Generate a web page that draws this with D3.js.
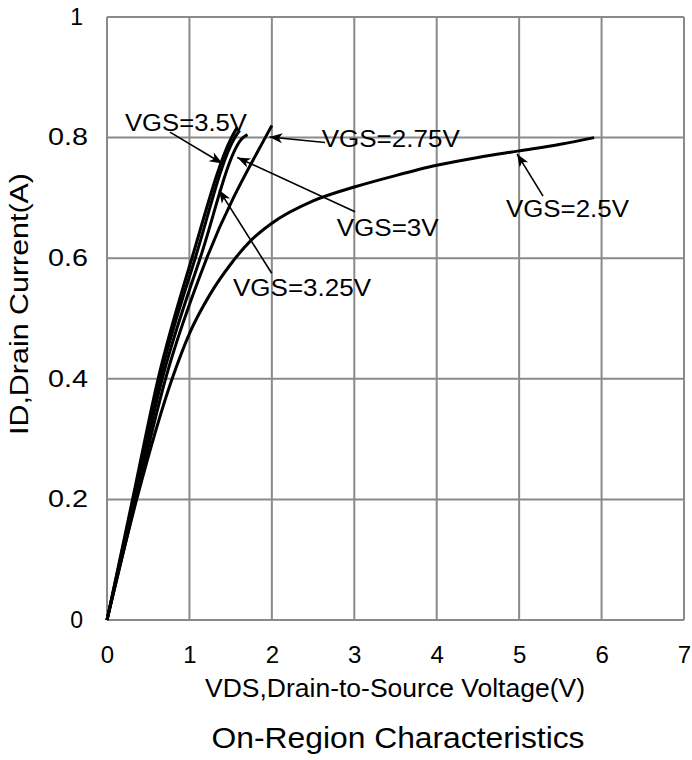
<!doctype html>
<html>
<head>
<meta charset="utf-8">
<style>
  body { margin: 0; background: #fff; }
  text { font-family: "Liberation Sans", Arial, sans-serif; fill: #000; }
</style>
<script src="https://d3js.org/d3.v7.min.js"></script>
</head>
<body>
<svg width="692" height="760"></svg>
<script>
// ---- data ----
var xTicks = [0, 1, 2, 3, 4, 5, 6, 7];
var yTicks = [0, 0.2, 0.4, 0.6, 0.8, 1];

// VGS = 2.5V
var vds25 = [0, 0.36, 0.79, 1.0, 1.25, 1.5, 1.75, 2.0, 2.5, 3.0, 3.5, 4.0, 4.5, 5.0, 5.5, 5.91];
var id25  = [0, 0.2, 0.4, 0.475, 0.54, 0.59, 0.63, 0.658, 0.695, 0.718, 0.737, 0.754, 0.767, 0.778, 0.789, 0.80];
// VGS = 2.75V
var vds275 = [0, 0.35, 0.71, 1.21, 1.92, 2.0];
var id275  = [0, 0.2, 0.4, 0.6, 0.8, 0.82];
// VGS = 3V
var vds3 = [0, 0.33, 0.67, 1.13, 1.65, 1.705];
var id3  = [0, 0.2, 0.4, 0.6, 0.8, 0.805];
// VGS = 3.25V
var vds325 = [0, 0.32, 0.64, 1.07, 1.55, 1.61];
var id325  = [0, 0.2, 0.4, 0.6, 0.8, 0.812];
// VGS = 3.5V
var vds35 = [0, 0.31, 0.62, 1.03, 1.51, 1.58];
var id35  = [0, 0.2, 0.4, 0.6, 0.8, 0.817];

// annotation labels: text, label position (V, A), arrow tail and tip (V, A)
var labelText = ["VGS=3.5V", "VGS=2.75V", "VGS=3V", "VGS=3.25V", "VGS=2.5V"];
var labelPos  = [[0.218, 0.811], [2.605, 0.785], [2.787, 0.636], [1.529, 0.537], [4.84, 0.668]];
var labelLen  = [122, 138, 102, 138, 123];
var arrowFrom = [[0.764, 0.809], [2.645, 0.792], [3.009, 0.677], [1.998, 0.575], [5.29, 0.703]];
var arrowTo   = [[1.40, 0.757], [1.97, 0.801], [1.58, 0.767], [1.36, 0.713], [4.975, 0.773]];

var svg = d3.select("svg");

var x = d3.scaleLinear().domain([0, 7]).range([107, 684]);
var y = d3.scaleLinear().domain([0, 1]).range([620, 17]);

// grid
var grid = svg.append("g").attr("stroke", "#8a8a8a").attr("stroke-width", 2);
grid.selectAll("line.v").data(xTicks).enter().append("line")
    .attr("x1", d => x(d)).attr("x2", d => x(d))
    .attr("y1", y(0)).attr("y2", y(1));
grid.selectAll("line.h").data(yTicks).enter().append("line")
    .attr("x1", x(0)).attr("x2", x(7))
    .attr("y1", d => y(d)).attr("y2", d => y(d));

// axes (labels only, the grid draws the frame)
var xAxis = svg.append("g")
    .attr("transform", "translate(0," + y(0) + ")")
    .call(d3.axisBottom(x).tickValues(xTicks).tickSize(0).tickPadding(26).tickFormat(d3.format("d")));
xAxis.select(".domain").remove();
xAxis.selectAll("text").attr("font-size", 24).attr("font-family", null);

var isInt = d => d === 0 || d === 1;
var yAxis = svg.append("g")
    .attr("transform", "translate(" + x(0) + ",0)")
    .call(d3.axisLeft(y).tickValues(yTicks).tickSize(0).tickPadding(22).tickFormat(d => isInt(d) ? d : d3.format(".1f")(d)));
yAxis.select(".domain").remove();
yAxis.selectAll("text")
    .attr("font-size", 23).attr("font-family", null)
    .attr("x", d => isInt(d) ? -24 : -19)
    .attr("textLength", d => isInt(d) ? null : 40)
    .attr("lengthAdjust", "spacingAndGlyphs");

// curves
var line = d3.line().x(d => x(d[0])).y(d => y(d[1])).curve(d3.curveMonotoneX);
var series = [
  d3.zip(vds25, id25), d3.zip(vds275, id275), d3.zip(vds3, id3),
  d3.zip(vds325, id325), d3.zip(vds35, id35)
];
svg.append("g").selectAll("path").data(series).enter().append("path")
    .attr("d", line)
    .attr("fill", "none")
    .attr("stroke", "#000")
    .attr("stroke-width", 3);

// arrowheads
svg.append("defs").append("marker")
    .attr("id", "arr")
    .attr("markerUnits", "userSpaceOnUse")
    .attr("viewBox", "-14 -6 16 12")
    .attr("markerWidth", 16).attr("markerHeight", 12)
    .attr("refX", 0).attr("refY", 0)
    .attr("orient", "auto")
  .append("path")
    .attr("d", "M0,0 L-13,-5 L-9.5,0 L-13,5 Z")
    .attr("fill", "#000");

var ann = svg.append("g");
ann.selectAll("line").data(d3.range(labelText.length)).enter().append("line")
    .attr("x1", i => x(arrowFrom[i][0])).attr("y1", i => y(arrowFrom[i][1]))
    .attr("x2", i => x(arrowTo[i][0])).attr("y2", i => y(arrowTo[i][1]))
    .attr("stroke", "#000").attr("stroke-width", 1.6)
    .attr("marker-end", "url(#arr)");
ann.selectAll("text").data(d3.range(labelText.length)).enter().append("text")
    .attr("x", i => x(labelPos[i][0])).attr("y", i => y(labelPos[i][1]))
    .attr("font-size", 23.5)
    .attr("textLength", i => labelLen[i])
    .attr("lengthAdjust", "spacingAndGlyphs")
    .text(i => labelText[i]);

// axis titles
svg.append("text")
    .attr("x", 395).attr("y", 697)
    .attr("text-anchor", "middle")
    .attr("font-size", 25)
    .attr("textLength", 380).attr("lengthAdjust", "spacingAndGlyphs")
    .text("VDS,Drain-to-Source Voltage(V)");

svg.append("text")
    .attr("transform", "translate(28,304) rotate(-90)")
    .attr("text-anchor", "middle")
    .attr("font-size", 25)
    .attr("textLength", 262).attr("lengthAdjust", "spacingAndGlyphs")
    .text("ID,Drain Current(A)");

svg.append("text")
    .attr("x", 398).attr("y", 748)
    .attr("text-anchor", "middle")
    .attr("font-size", 30)
    .attr("textLength", 373).attr("lengthAdjust", "spacingAndGlyphs")
    .text("On-Region Characteristics");
</script>
</body>
</html>
